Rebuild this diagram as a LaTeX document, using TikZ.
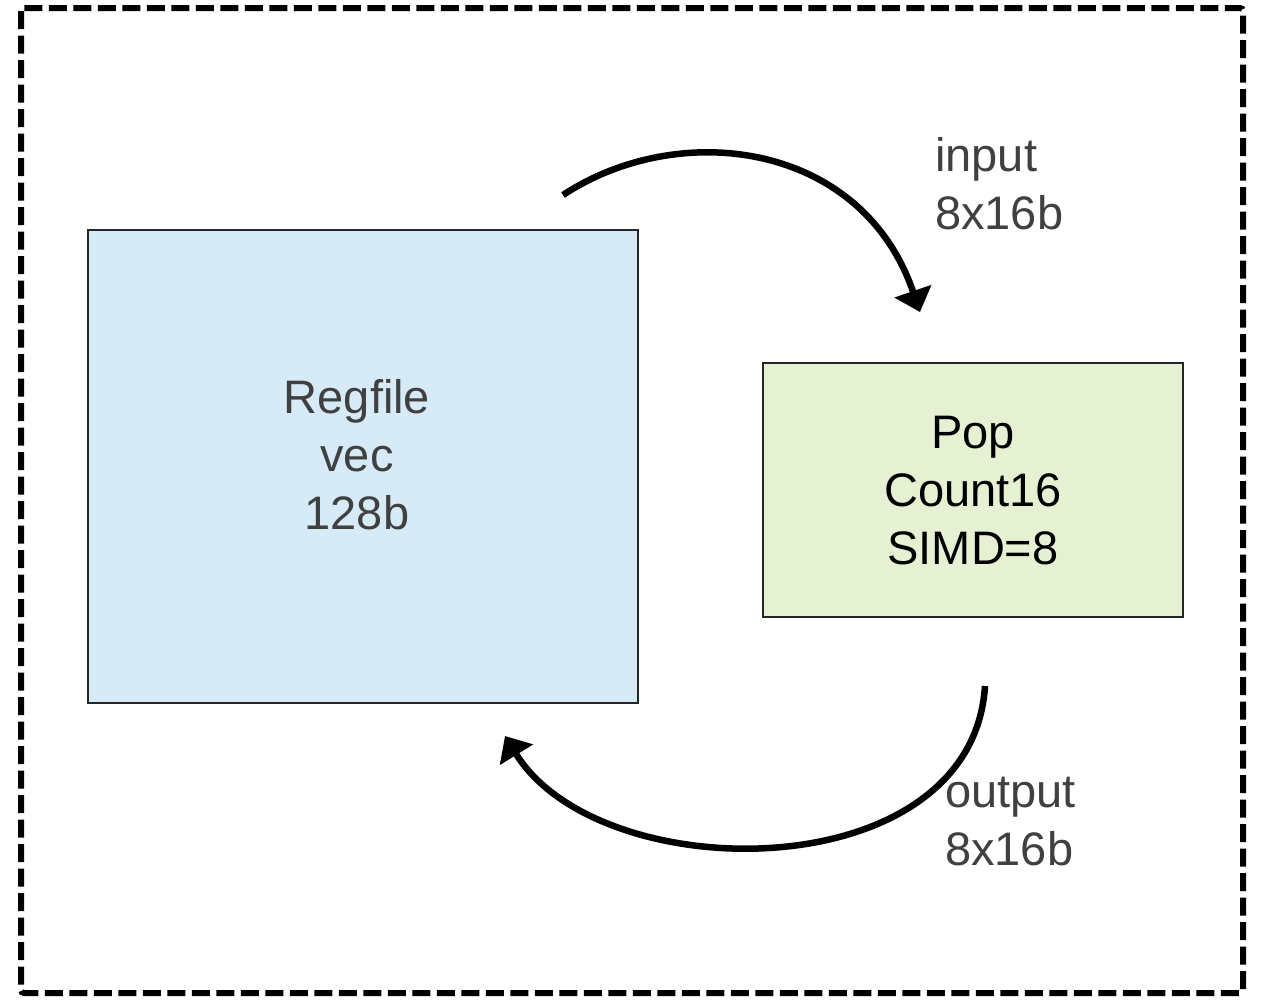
\documentclass[tikz,border=0pt]{standalone}
\usepackage{fontspec}
\setmainfont{Liberation Sans}
\usetikzlibrary{arrows.meta}
\definecolor{regblue}{HTML}{D6EAF7}
\definecolor{popgreen}{HTML}{E6F0D3}
\definecolor{txtgrey}{HTML}{404040}
\tikzset{
  frame/.style={line width=6pt, dash pattern=on 18pt off 6.5pt, rounded corners=3pt},
  unitbox/.style={draw=black!85, line width=1.8pt},
  bigtext/.style={align=center, font=\fontsize{47}{58}\selectfont, inner sep=0pt},
  label/.style={align=left, anchor=north west, font=\fontsize{47}{58}\selectfont, text=txtgrey, inner sep=0pt},
  flow/.style={line width=6.5pt, -{Triangle[length=22pt,width=38pt]}},
}
\begin{document}
\begin{tikzpicture}[x=1pt,y=-1pt]
\useasboundingbox (0,0) rectangle (1261,999);
% outer dashed frame
\draw[frame] (21,8) rectangle (1243,993);
% register file and pop-count unit
\draw[unitbox, fill=regblue] (88,230) rectangle (638,703);
\node[bigtext, text=txtgrey] (reg) at (357,455) {Regfile\\vec\\128b};
\draw[unitbox, fill=popgreen] (763,363) rectangle (1183,617);
\node[bigtext, text=black] (pop) at (973,491) {Pop\\Count16\\SIMD=8};
% data paths
\coordinate (inS) at (563,195);
\coordinate (inE) at (920,312);
\coordinate (outS) at (985,686);
\coordinate (outE) at (505,736);
\draw[flow] (inS) .. controls (680,118) and (862,142) .. (inE);
\draw[flow] (outS) .. controls (972,890) and (600,890) .. (outE);
% path labels
\node[label] (inlab) at (935,137) {input\\8x16b};
\node[label] (outlab) at (945,777) {output\\8x16b};
\end{tikzpicture}
\end{document}
